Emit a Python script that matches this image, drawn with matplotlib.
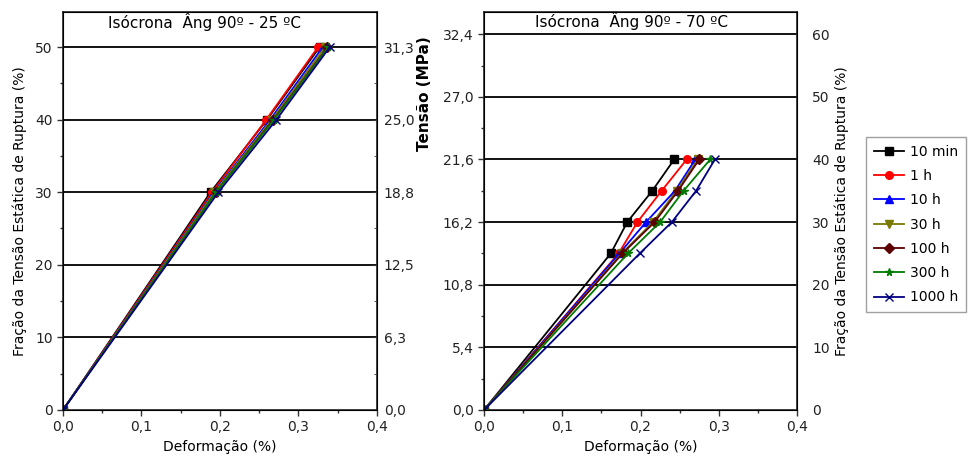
import numpy as np
import matplotlib
matplotlib.use("Agg")
import matplotlib.pyplot as plt
from matplotlib.ticker import MultipleLocator

# --- data ---
series = ['10 min', '1 h', '10 h', '30 h', '100 h', '300 h', '1000 h']
colors = ['black', 'red', 'blue', '#7a7a00', '#5c0000', '#007a00', '#000080']
markers = ['s', 'o', '^', 'v', 'D', '*', 'x']

# 25 C: fraction of rupture stress (%) vs strain (%)
frac_25 = [0, 30, 40, 50]
strain_25 = [
    [0, 0.188, 0.260, 0.327],
    [0, 0.190, 0.259, 0.325],
    [0, 0.192, 0.264, 0.331],
    [0, 0.193, 0.266, 0.334],
    [0, 0.195, 0.268, 0.337],
    [0, 0.195, 0.269, 0.338],
    [0, 0.198, 0.272, 0.340],
]
mpa_labels_25 = ['0,0', '6,3', '12,5', '18,8', '25,0', '31,3']

# 70 C: stress (MPa) vs strain (%)
stress_70 = [0, 13.5, 16.2, 18.9, 21.6]
strain_70 = [
    [0, 0.162, 0.183, 0.215, 0.243],
    [0, 0.172, 0.196, 0.227, 0.259],
    [0, 0.173, 0.207, 0.244, 0.270],
    [0, 0.176, 0.216, 0.246, 0.273],
    [0, 0.177, 0.218, 0.248, 0.275],
    [0, 0.184, 0.225, 0.255, 0.289],
    [0, 0.199, 0.240, 0.271, 0.295],
]
mpa_ticks_70 = [0, 5.4, 10.8, 16.2, 21.6, 27.0, 32.4]
frac_ticks_70 = [0, 10, 20, 30, 40, 50, 60]

x_ticks = [0, 0.1, 0.2, 0.3, 0.4]


def comma(v, nd=1):
    return f"{v:.{nd}f}".replace('.', ',')


plt.rcParams['font.family'] = 'DejaVu Sans'
plt.rcParams['font.size'] = 10

fig = plt.figure(figsize=(9.72, 4.68), dpi=100)
ax1 = fig.add_axes([0.0648, 0.124, 0.323, 0.850])
ax2 = fig.add_axes([0.498, 0.124, 0.322, 0.850])

for ax in (ax1, ax2):
    ax.set_xlim(0, 0.4)
    ax.set_xticks(x_ticks)
    ax.set_xticklabels([comma(v) for v in x_ticks])
    ax.xaxis.set_minor_locator(MultipleLocator(0.05))
    ax.set_xlabel('Deformação (%)', labelpad=4)
    ax.tick_params(which='both', direction='out', width=1, colors='#333333', labelcolor='#222222')
    ax.tick_params(which='major', length=4)
    ax.tick_params(which='minor', length=2.5)
    for s in ax.spines.values():
        s.set_linewidth(1.2)
        s.set_color('#222222')

# left panel
ax1.set_ylim(0, 54.8)
ax1.set_yticks([0, 10, 20, 30, 40, 50])
ax1.yaxis.set_minor_locator(MultipleLocator(5))
for y in [10, 20, 30, 40, 50]:
    ax1.axhline(y, color='black', lw=1.3, zorder=1)
for i, name in enumerate(series):
    ax1.plot(strain_25[i], frac_25, color=colors[i], marker=markers[i], ms=5.5,
             lw=1.3, label=name, zorder=3)
ax1.set_ylabel('Fração da Tensão Estática de Ruptura (%)', labelpad=6)
ax1.text(0.45, 0.975, 'Isócrona  Âng 90º - 25 ºC', transform=ax1.transAxes,
         ha='center', va='center', fontsize=11)
ax1r = ax1.twinx()
ax1r.set_ylim(ax1.get_ylim())
ax1r.set_yticks([0, 10, 20, 30, 40, 50])
ax1r.set_yticklabels(mpa_labels_25)
ax1r.yaxis.set_minor_locator(MultipleLocator(5))
ax1r.tick_params(which='both', direction='in', colors='#333333', labelcolor='#222222')
ax1r.tick_params(which='major', length=4, pad=5)
ax1r.tick_params(which='minor', length=2.5)

# right panel
ax2.set_ylim(0, 34.3)
ax2.set_yticks(mpa_ticks_70)
ax2.set_yticklabels([comma(v) for v in mpa_ticks_70])
ax2.yaxis.set_minor_locator(MultipleLocator(2.7))
for y in mpa_ticks_70[1:]:
    ax2.axhline(y, color='black', lw=1.3, zorder=1)
handles = []
for i, name in enumerate(series):
    h, = ax2.plot(strain_70[i], stress_70, color=colors[i], marker=markers[i], ms=5.5,
                  lw=1.3, label=name, zorder=3)
    handles.append(h)
ax2.text(0.47, 0.977, 'Isócrona  Âng 90º - 70 ºC', transform=ax2.transAxes,
         ha='center', va='center', fontsize=11)
ax2r = ax2.twinx()
ax2r.set_ylim(ax2.get_ylim())
ax2r.set_yticks([v * 0.54 for v in frac_ticks_70])
ax2r.set_yticklabels([str(v) for v in frac_ticks_70])
ax2r.tick_params(which='both', length=0, pad=11, labelcolor='#222222')
ax2r.set_ylabel('Fração da Tensão Estática de Ruptura (%)', labelpad=3)

fig.text(0.437, 0.80, 'Tensão (MPa)', rotation=90, ha='center', va='center',
         fontsize=11, fontweight='bold')

fig.legend(handles, series, loc='upper left', bbox_to_anchor=(0.891, 0.707),
           frameon=True, fancybox=False, edgecolor='#888888', fontsize=10,
           handlelength=2.2, borderpad=0.55, labelspacing=0.74, handletextpad=0.4,
           borderaxespad=0)

fig.savefig('out.png', dpi=100)
